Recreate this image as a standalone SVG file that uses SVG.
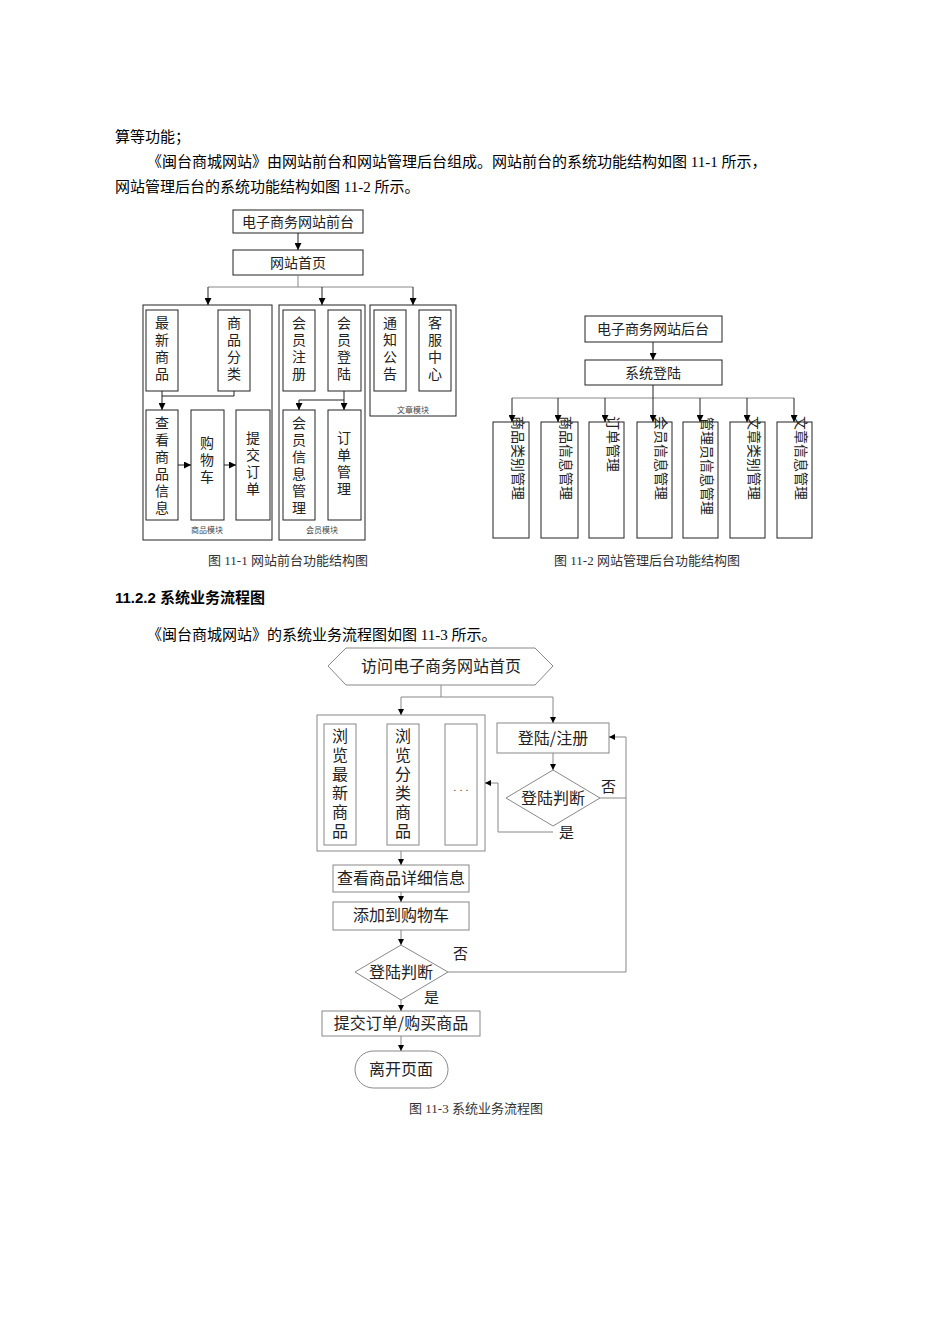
<svg xmlns="http://www.w3.org/2000/svg" width="950" height="1344" viewBox="0 0 950 1344">
<style>
.body{font-family:"Liberation Serif","Noto Sans CJK SC",serif;font-size:15px;fill:#000}
.cap{font-family:"Liberation Serif","Noto Sans CJK SC",serif;font-size:13px;fill:#333}
.h{font-family:"Liberation Sans","Noto Sans CJK SC",sans-serif;font-size:15px;font-weight:bold}
.t{font-family:"Noto Sans CJK SC",sans-serif;font-size:14px;fill:#222;text-anchor:middle}
.s{font-family:"Noto Sans CJK SC",sans-serif;font-size:8px;fill:#444;text-anchor:middle}
.f{font-family:"Noto Sans CJK SC",sans-serif;font-size:16px;fill:#222;text-anchor:middle}
.b{fill:#fff;stroke:#222;stroke-width:1}
.g{fill:#fff;stroke:#888;stroke-width:1}
.l{fill:none;stroke:#222;stroke-width:1}
.lg{fill:none;stroke:#888;stroke-width:1}
.ar{marker-end:url(#a)}
.ar2{marker-end:url(#a2)}
</style>
<defs>
<marker id="a" viewBox="0 0 10 10" refX="10" refY="5" markerWidth="7" markerHeight="7" orient="auto"><path d="M0,0L10,5L0,10z" fill="#000"/></marker>
<marker id="a2" viewBox="0 0 10 10" refX="10" refY="5" markerWidth="6" markerHeight="6" orient="auto"><path d="M0,0L10,5L0,10z" fill="#000"/></marker>
</defs>
<rect width="950" height="1344" fill="#fff"/>
<text class="body" x="115" y="142">算等功能；</text>
<text class="body" x="147" y="167">《闽台商城网站》由网站前台和网站管理后台组成。网站前台的系统功能结构如图 11-1 所示，</text>
<text class="body" x="115" y="192">网站管理后台的系统功能结构如图 11-2 所示。</text>
<text class="cap" x="288" y="565" text-anchor="middle">图 11-1 网站前台功能结构图</text>
<text class="cap" x="647" y="565" text-anchor="middle">图 11-2  网站管理后台功能结构图</text>
<text class="h" x="115" y="603">11.2.2 系统业务流程图</text>
<text class="body" x="147" y="640">《闽台商城网站》的系统业务流程图如图 11-3 所示。</text>
<text class="cap" x="476" y="1113" text-anchor="middle">图 11-3  系统业务流程图</text>

<g id="f1-top"><rect class="b" x="233" y="210" width="130" height="23"/><text class="t" x="298" y="227">电子商务网站前台</text></g>
<g id="f1-home"><rect class="b" x="233" y="250" width="130" height="25"/><text class="t" x="298" y="268">网站首页</text></g>
<g id="f1-m1"><rect class="b" x="143" y="305" width="129" height="235"/><text class="s" x="207" y="533">商品模块</text></g>
<g id="f1-m2"><rect class="b" x="279" y="305" width="86" height="235"/><text class="s" x="322" y="533">会员模块</text></g>
<g id="f1-m3"><rect class="b" x="370" y="305" width="86" height="111"/><text class="s" x="413" y="413">文章模块</text></g>
<g id="f1-zxsp"><rect class="b" x="146" y="310" width="32" height="81"/><text class="t" x="162" y="328">最<tspan x="162" dy="17">新</tspan><tspan x="162" dy="17">商</tspan><tspan x="162" dy="17">品</tspan></text></g>
<g id="f1-spfl"><rect class="b" x="218" y="310" width="32" height="81"/><text class="t" x="234" y="328">商<tspan x="234" dy="17">品</tspan><tspan x="234" dy="17">分</tspan><tspan x="234" dy="17">类</tspan></text></g>
<g id="f1-ckxx"><rect class="b" x="146" y="410" width="32" height="110"/><text class="t" x="162" y="428">查<tspan x="162" dy="17">看</tspan><tspan x="162" dy="17">商</tspan><tspan x="162" dy="17">品</tspan><tspan x="162" dy="17">信</tspan><tspan x="162" dy="17">息</tspan></text></g>
<g id="f1-gwc"><rect class="b" x="191" y="410" width="33" height="110"/><text class="t" x="207" y="448">购<tspan x="207" dy="17">物</tspan><tspan x="207" dy="17">车</tspan></text></g>
<g id="f1-tjdd"><rect class="b" x="236" y="410" width="34" height="110"/><text class="t" x="253" y="443">提<tspan x="253" dy="17">交</tspan><tspan x="253" dy="17">订</tspan><tspan x="253" dy="17">单</tspan></text></g>
<g id="f1-hyzc"><rect class="b" x="283" y="310" width="32" height="81"/><text class="t" x="299" y="328">会<tspan x="299" dy="17">员</tspan><tspan x="299" dy="17">注</tspan><tspan x="299" dy="17">册</tspan></text></g>
<g id="f1-hydl"><rect class="b" x="328" y="310" width="33" height="81"/><text class="t" x="344" y="328">会<tspan x="344" dy="17">员</tspan><tspan x="344" dy="17">登</tspan><tspan x="344" dy="17">陆</tspan></text></g>
<g id="f1-hyxx"><rect class="b" x="283" y="410" width="32" height="110"/><text class="t" x="299" y="428">会<tspan x="299" dy="17">员</tspan><tspan x="299" dy="17">信</tspan><tspan x="299" dy="17">息</tspan><tspan x="299" dy="17">管</tspan><tspan x="299" dy="17">理</tspan></text></g>
<g id="f1-ddgl"><rect class="b" x="328" y="410" width="33" height="110"/><text class="t" x="344" y="443">订<tspan x="344" dy="17">单</tspan><tspan x="344" dy="17">管</tspan><tspan x="344" dy="17">理</tspan></text></g>
<g id="f1-tzgg"><rect class="b" x="374" y="310" width="32" height="81"/><text class="t" x="390" y="328">通<tspan x="390" dy="17">知</tspan><tspan x="390" dy="17">公</tspan><tspan x="390" dy="17">告</tspan></text></g>
<g id="f1-kfzx"><rect class="b" x="419" y="310" width="32" height="81"/><text class="t" x="435" y="328">客<tspan x="435" dy="17">服</tspan><tspan x="435" dy="17">中</tspan><tspan x="435" dy="17">心</tspan></text></g>

<g id="f2-top"><rect class="b" x="585" y="316" width="137" height="26"/><text class="t" x="653" y="334">电子商务网站后台</text></g>
<g id="f2-login"><rect class="b" x="585" y="360" width="137" height="25"/><text class="t" x="653" y="378">系统登陆</text></g>
<g id="f2-c1"><rect class="b" x="493" y="422" width="36" height="116"/><text class="t" transform="translate(513,458) rotate(90)">商品类别管理</text></g>
<g id="f2-c2"><rect class="b" x="541" y="422" width="37" height="116"/><text class="t" transform="translate(561,458) rotate(90)">商品信息管理</text></g>
<g id="f2-c3"><rect class="b" x="589" y="422" width="35" height="116"/><text class="t" transform="translate(608,444) rotate(90)">订单管理</text></g>
<g id="f2-c4"><rect class="b" x="637" y="422" width="35" height="116"/><text class="t" transform="translate(656,458) rotate(90)">会员信息管理</text></g>
<g id="f2-c5"><rect class="b" x="683" y="422" width="35" height="116"/><text class="t" transform="translate(702,466) rotate(90)">管理员信息管理</text></g>
<g id="f2-c6"><rect class="b" x="730" y="422" width="35" height="116"/><text class="t" transform="translate(749,458) rotate(90)">文章类别管理</text></g>
<g id="f2-c7"><rect class="b" x="777" y="422" width="35" height="116"/><text class="t" transform="translate(796,458) rotate(90)">文章信息管理</text></g>

<g id="f3-start"><polygon class="g" points="328,666 346,648 535,648 553,666 535,685 346,685"/><text class="f" x="441" y="672">访问电子商务网站首页</text></g>
<g id="f3-box"><rect class="g" x="317" y="715" width="168" height="136"/></g>
<g id="f3-zx"><rect class="g" x="324" y="724" width="32" height="121"/><text class="f" x="340" y="742">浏<tspan x="340" dy="19">览</tspan><tspan x="340" dy="19">最</tspan><tspan x="340" dy="19">新</tspan><tspan x="340" dy="19">商</tspan><tspan x="340" dy="19">品</tspan></text></g>
<g id="f3-fl"><rect class="g" x="387" y="724" width="32" height="121"/><text class="f" x="403" y="742">浏<tspan x="403" dy="19">览</tspan><tspan x="403" dy="19">分</tspan><tspan x="403" dy="19">类</tspan><tspan x="403" dy="19">商</tspan><tspan x="403" dy="19">品</tspan></text></g>
<g id="f3-etc"><rect class="g" x="445" y="724" width="32" height="121"/><text x="461" y="791" font-family="Liberation Sans,sans-serif" font-size="11" fill="#444" text-anchor="middle">. . .</text></g>
<g id="f3-login"><rect class="g" x="497" y="723" width="112" height="30"/><text class="f" x="553" y="744">登陆/注册</text></g>
<g id="f3-d1"><polygon class="g" points="553,770 600,798 553,826 506,798"/><text class="f" x="553" y="804">登陆判断</text></g>
<g id="f3-detail"><rect class="g" x="333" y="865" width="136" height="27"/><text class="f" x="401" y="884">查看商品详细信息</text></g>
<g id="f3-cart"><rect class="g" x="333" y="902" width="136" height="28"/><text class="f" x="401" y="921">添加到购物车</text></g>
<g id="f3-d2"><polygon class="g" points="401,945 448,972 401,1000 355,972"/><text class="f" x="401" y="978">登陆判断</text></g>
<g id="f3-order"><rect class="g" x="322" y="1011" width="158" height="25"/><text class="f" x="401" y="1029">提交订单/购买商品</text></g>
<g id="f3-end"><rect class="g" x="355" y="1051" width="93" height="37" rx="18.5"/><text class="f" x="401" y="1075">离开页面</text></g>
<g id="f3-labels" font-family="Noto Sans CJK SC,sans-serif" font-size="15" fill="#222">
<text x="601" y="792">否</text><text x="559" y="838">是</text><text x="453" y="959">否</text><text x="424" y="1003">是</text></g>

<g id="connectors">
<path class="l ar" d="M298,233V250"/>
<path class="lg" d="M298,275V287M208,287H413"/>
<path class="l ar" d="M208,287V305"/>
<path class="l ar" d="M322,287V305"/>
<path class="l ar" d="M413,287V305"/>
<path class="l ar" d="M162,391V410"/>
<path class="l" d="M234,391V396H162"/>
<path class="l ar" d="M178,465H191"/>
<path class="l ar" d="M224,465H236"/>
<path class="l ar" d="M344,391V410"/>
<path class="l ar" d="M344,400H299V410"/>
<path class="l ar" d="M653,342V360"/>
<path class="lg" d="M512,398H794"/>
<path class="l ar" d="M653,385V422"/>
<path class="l ar" d="M512,398V422"/>
<path class="l ar" d="M558,398V422"/>
<path class="l ar" d="M605,398V422"/>
<path class="l ar" d="M700,398V422"/>
<path class="l ar" d="M747,398V422"/>
<path class="l ar" d="M794,398V422"/>
<path class="lg" d="M441,685V697M401,697H553"/>
<path class="lg ar2" d="M401,697V715"/>
<path class="lg ar2" d="M553,697V723"/>
<path class="lg ar2" d="M553,753V770"/>
<path class="lg ar2" d="M553,832H498V783H485"/>
<path class="lg ar2" d="M600,798H626V737H609"/>
<path class="lg" d="M448,972H626V798"/>
<path class="lg ar2" d="M401,851V865"/>
<path class="lg ar2" d="M401,892V902"/>
<path class="lg ar2" d="M401,930V945"/>
<path class="lg ar2" d="M401,1000V1011"/>
<path class="lg ar2" d="M401,1036V1051"/>
</g>
</svg>
